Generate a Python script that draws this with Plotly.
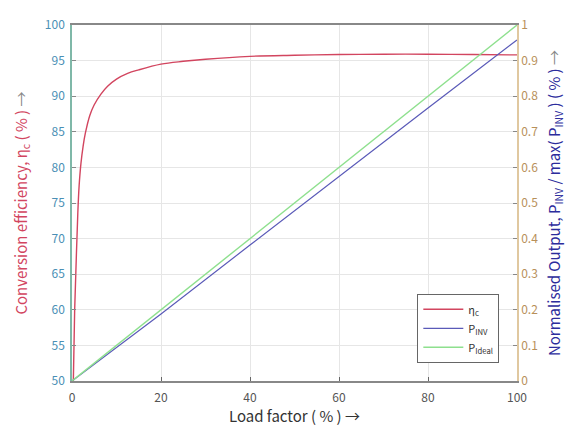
import plotly.graph_objects as go

# Data
eff_load = [0.3, 0.6, 1.0, 1.3, 1.6, 2.0, 2.5, 3.0, 4.0, 5.0, 6.5, 8, 10, 12.5, 15, 20, 25, 30, 40, 50, 60, 70, 80, 90, 100]
eff_vals = [50, 60, 68, 73.5, 77.4, 80.5, 83, 84.8, 87.3, 88.8, 90.3, 91.4, 92.4, 93.2, 93.7, 94.5, 94.9, 95.2, 95.6, 95.75, 95.85, 95.9, 95.9, 95.85, 95.8]

line_load = [0, 20, 40, 60, 80, 100]
p_inv = [0, 0.188, 0.382, 0.575, 0.767, 0.958]
p_ideal = [0, 0.2, 0.4, 0.6, 0.8, 1.0]

x_ticks = [0, 20, 40, 60, 80, 100]
y_ticks = [50, 55, 60, 65, 70, 75, 80, 85, 90, 95, 100]
y2_ticks = [0, 0.1, 0.2, 0.3, 0.4, 0.5, 0.6, 0.7, 0.8, 0.9, 1]

RED = "#d2455f"
BLUE = "#5a5ab8"
GREEN = "#8ee08e"
FONT = "Noto Sans CJK JP"

fig = go.Figure()
fig.add_trace(go.Scatter(x=eff_load, y=eff_vals, mode="lines", name="η<sub>c</sub>",
                         line=dict(color=RED, width=1.4, shape="spline"), yaxis="y"))
fig.add_trace(go.Scatter(x=line_load, y=p_inv, mode="lines", name="P<sub>INV</sub>",
                         line=dict(color=BLUE, width=1.2), yaxis="y2"))
fig.add_trace(go.Scatter(x=line_load, y=p_ideal, mode="lines", name="P<sub>Ideal</sub>",
                         line=dict(color=GREEN, width=1.4), yaxis="y2"))

fig.update_layout(
    width=577, height=430,
    margin=dict(l=72, r=60, t=25, b=47),
    paper_bgcolor="white", plot_bgcolor="white",
    font=dict(family=FONT, size=12, color="#333"),
    xaxis=dict(range=[0, 100], tickvals=x_ticks, ticks="inside", ticklen=4,
               tickcolor="#666", showline=True, linecolor="#888", linewidth=1.5,
               mirror=True, showgrid=True, gridcolor="#e6e6e6", zeroline=False,
               tickfont=dict(size=12, color="#555"), ticklabelstandoff=5,
               title=dict(text="Load factor ( % ) →", font=dict(size=15, color="#333"), standoff=2)),
    yaxis=dict(range=[50, 100], tickvals=y_ticks, ticks="inside", ticklen=4,
               tickcolor="#888", showline=True, linecolor="#7fb8a8", linewidth=1.5,
               showgrid=True, gridcolor="#e6e6e6", zeroline=False,
               tickfont=dict(size=12, color="#4a8fb5"), ticklabelstandoff=3,
               title=dict(text="Conversion efficiency, η<sub>c</sub> ( % ) <span style='color:#888'>→</span>",
                          font=dict(size=15, color=RED), standoff=14)),
    yaxis2=dict(range=[0, 1], tickvals=y2_ticks, overlaying="y", side="right",
                ticks="inside", ticklen=4, tickcolor="#888", showline=True,
                linecolor="#e0c8a0", linewidth=1.5, showgrid=False, zeroline=False,
                tickfont=dict(size=12, color="#b8905a"),
                title=dict(text="Normalised Output, P<sub>INV</sub> / max( P<sub>INV</sub> ) ( % ) <span style='color:#888'>→</span>",
                           font=dict(size=15, color="#2c2c9c"), standoff=12)),
    legend=dict(x=0.776, y=0.245, xanchor="left", yanchor="top",
                bgcolor="white", bordercolor="#666", borderwidth=1,
                font=dict(size=11, color="#333"), itemwidth=40,
                tracegroupgap=0),
    showlegend=True,
)

fig.write_html("out.html")
